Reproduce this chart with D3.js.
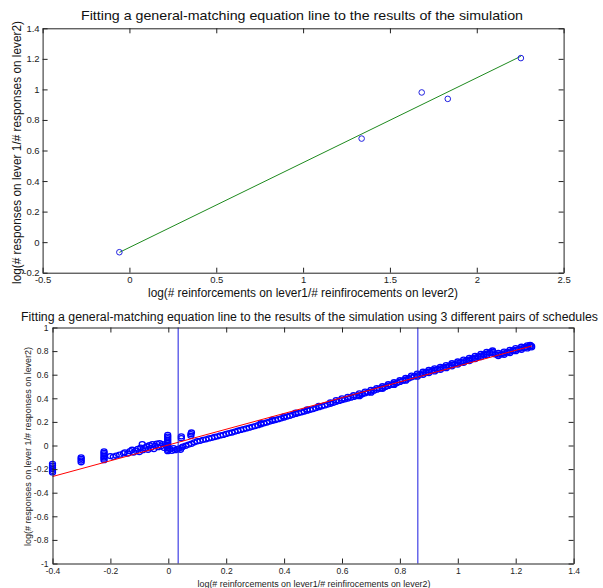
<!DOCTYPE html>
<html>
<head>
<meta charset="utf-8">
<script src="https://cdn.jsdelivr.net/npm/d3@7"></script>
<style>
  body { margin: 0; background: #fff; }
  text { font-family: "Liberation Sans", Arial, sans-serif; }
</style>
</head>
<body>
<script>
// ---- top chart: 5 simulation results + fitted line ----
var topX = [-0.058, 1.337, 1.683, 1.833, 2.254];
var topY = [-0.066, 0.678, 0.980, 0.938, 1.205];
var topFitX = [-0.058, 2.254];
var topFitY = [-0.067, 1.217];
var topXTicks = [-0.5, 0, 0.5, 1, 1.5, 2, 2.5];
var topXLabels = ["-0.5", "0", "0.5", "1", "1.5", "2", "2.5"];
var topYTicks = [-0.2, 0, 0.2, 0.4, 0.6, 0.8, 1, 1.2, 1.4];
var topYLabels = ["-0.2", "0", "0.2", "0.4", "0.6", "0.8", "1", "1.2", "1.4"];

// ---- bottom chart: 3 pairs of schedules ----
// scattered clusters on the left
var clusterX = [-0.400, -0.400, -0.400, -0.400, -0.400, -0.400,
  -0.301, -0.301, -0.301, -0.301,
  -0.222, -0.222, -0.222, -0.222, -0.222, -0.222, -0.222,
  -0.200, -0.190, -0.180, -0.168, -0.155, -0.150, -0.140, -0.132, -0.125, -0.120,
  -0.112, -0.105, -0.100, -0.095, -0.090, -0.088, -0.080, -0.075, -0.070, -0.065,
  -0.060, -0.055, -0.050, -0.045, -0.040, -0.035, -0.030, -0.025, -0.020, -0.015, -0.010,
  -0.002, -0.002, -0.002, -0.002, -0.002, -0.002, -0.002, -0.002, -0.002, -0.002, -0.002,
  0.006, 0.012, 0.018, 0.024, 0.030, 0.036, 0.042, 0.046,
  0.045, 0.045, 0.078, 0.078, 0.080];
var clusterY = [-0.155, -0.170, -0.185, -0.200, -0.215, -0.228,
  -0.100, -0.113, -0.127, -0.142,
  -0.050, -0.062, -0.075, -0.088, -0.100, -0.112, -0.124,
  -0.090, -0.096, -0.085, -0.078, -0.066, -0.058, -0.068, -0.048, -0.036, -0.060,
  -0.044, -0.028, -0.055, -0.018, 0.012, -0.040, -0.024, -0.008, -0.036, 0.002,
  -0.020, 0.012, -0.030, -0.004, 0.016, -0.014, 0.020, -0.006, 0.012, -0.020, 0.004,
  0.090, 0.076, 0.062, 0.048, 0.034, 0.020, 0.006, -0.008, -0.022, -0.036, -0.048,
  -0.030, -0.045, -0.022, -0.040, -0.032, -0.026, -0.036, -0.018,
  0.062, 0.078, 0.082, 0.097, 0.110];

// main band of points
var bandX = [0.05, 0.06, 0.07, 0.08, 0.09, 0.10, 0.11, 0.12, 0.13, 0.14,
  0.15, 0.16, 0.17, 0.18, 0.19, 0.20, 0.21, 0.22, 0.23, 0.24,
  0.25, 0.26, 0.27, 0.28, 0.29, 0.30, 0.31, 0.32, 0.33, 0.34,
  0.35, 0.36, 0.37, 0.38, 0.39, 0.40, 0.41, 0.42, 0.43, 0.44,
  0.45, 0.46, 0.47, 0.48, 0.49, 0.50, 0.51, 0.52, 0.53, 0.54,
  0.55, 0.56, 0.57, 0.58, 0.59, 0.60, 0.61, 0.62, 0.63, 0.64,
  0.65, 0.66, 0.67, 0.68, 0.69, 0.70, 0.71, 0.72, 0.73, 0.74,
  0.75, 0.76, 0.77, 0.78, 0.79, 0.80, 0.81, 0.82, 0.83, 0.84,
  0.85, 0.86, 0.87, 0.88, 0.89, 0.90, 0.91, 0.92, 0.93, 0.94,
  0.95, 0.96, 0.97, 0.98, 0.99, 1.00, 1.01, 1.02, 1.03, 1.04,
  1.05, 1.06, 1.07, 1.08, 1.09, 1.10, 1.11, 1.12, 1.13, 1.14,
  1.15, 1.16, 1.17, 1.18, 1.19, 1.20, 1.21, 1.22, 1.23, 1.24, 1.25];
var bandY = [-0.010, -0.002, 0.008, 0.015, 0.027, 0.036, 0.040, 0.048, 0.052, 0.060,
  0.065, 0.072, 0.078, 0.085, 0.090, 0.098, 0.105, 0.110, 0.118, 0.125,
  0.132, 0.138, 0.145, 0.151, 0.158, 0.165, 0.172, 0.180, 0.188, 0.195,
  0.203, 0.209, 0.216, 0.223, 0.230, 0.237, 0.245, 0.252, 0.260, 0.268,
  0.275, 0.281, 0.288, 0.295, 0.302, 0.309, 0.317, 0.325, 0.332, 0.340,
  0.347, 0.354, 0.362, 0.370, 0.378, 0.385, 0.391, 0.398, 0.405, 0.412,
  0.419, 0.427, 0.434, 0.442, 0.450, 0.457, 0.465, 0.473, 0.481, 0.488,
  0.496, 0.505, 0.513, 0.522, 0.530, 0.539, 0.549, 0.558, 0.568, 0.578,
  0.587, 0.595, 0.603, 0.611, 0.619, 0.626, 0.633, 0.640, 0.646, 0.653,
  0.659, 0.667, 0.675, 0.683, 0.690, 0.698, 0.705, 0.713, 0.720, 0.728,
  0.736, 0.745, 0.753, 0.762, 0.770, 0.779, 0.786, 0.793, 0.772, 0.770,
  0.773, 0.781, 0.789, 0.796, 0.804, 0.811, 0.817, 0.823, 0.829, 0.835, 0.840];

// upper edge of the band (thicker on the right)
var upperX = [0.32, 0.36, 0.40, 0.44, 0.48, 0.52,
  0.56, 0.58, 0.60, 0.62, 0.64, 0.66, 0.68, 0.70, 0.72, 0.74, 0.76, 0.78,
  0.80, 0.82, 0.84, 0.86, 0.88, 0.90, 0.92, 0.94, 0.96, 0.98, 1.00, 1.02, 1.04,
  1.06, 1.08, 1.10, 1.12, 1.14, 1.16, 1.18, 1.20, 1.22, 1.24, 1.25, 1.255];
var upperY = [0.190, 0.219, 0.247, 0.278, 0.305, 0.335,
  0.366, 0.384, 0.399, 0.412, 0.426, 0.441, 0.456, 0.471, 0.487, 0.502, 0.519, 0.536,
  0.553, 0.572, 0.592, 0.609, 0.625, 0.640, 0.654, 0.667, 0.681, 0.697, 0.712, 0.727, 0.742,
  0.759, 0.776, 0.793, 0.805, 0.784, 0.795, 0.810, 0.825, 0.837, 0.849, 0.853, 0.843];

// lower edge of the band
var lowerX = [0.66, 0.70, 0.74, 0.78, 0.82,
  0.86, 0.88, 0.90, 0.92, 0.94, 0.96, 0.98, 1.00, 1.02, 1.04, 1.06, 1.08,
  1.10, 1.12, 1.14, 1.16, 1.18, 1.20, 1.22, 1.24, 1.255];
var lowerY = [0.418, 0.448, 0.480, 0.513, 0.549,
  0.583, 0.599, 0.614, 0.628, 0.641, 0.655, 0.671, 0.686, 0.701, 0.716, 0.733, 0.750,
  0.767, 0.780, 0.758, 0.769, 0.784, 0.799, 0.811, 0.823, 0.832];

var botFitX = [-0.4, 1.255];
var botFitY = [-0.263, 0.843];
var botVLines = [0.034, 0.862];
var botXTicks = [-0.4, -0.2, 0, 0.2, 0.4, 0.6, 0.8, 1, 1.2, 1.4];
var botXLabels = ["-0.4", "-0.2", "0", "0.2", "0.4", "0.6", "0.8", "1", "1.2", "1.4"];
var botYTicks = [-1, -0.8, -0.6, -0.4, -0.2, 0, 0.2, 0.4, 0.6, 0.8, 1];
var botYLabels = ["-1", "-0.8", "-0.6", "-0.4", "-0.2", "0", "0.2", "0.4", "0.6", "0.8", "1"];

var xLabelText = "log(# reinforcements on lever1/# reinfirocements on lever2)";
var yLabelText = "log(# responses on lever 1/# responses on lever2)";

var svg = d3.select("body").append("svg")
  .attr("width", 603)
  .attr("height", 588);

// matlab style box with inward ticks on all four sides
function drawBox(g, x, y, w, h, xt, xl, yt, yl, fs, padX, padY) {
  var bottom = g.append("g")
    .attr("transform", "translate(0," + h + ")")
    .call(d3.axisBottom(x).tickValues(xt).tickFormat(function(d, i) { return xl[i]; })
      .tickSizeInner(-5).tickSizeOuter(0).tickPadding(padX));
  g.append("g")
    .call(d3.axisTop(x).tickValues(xt).tickFormat("").tickSizeInner(-5).tickSizeOuter(0));
  var left = g.append("g")
    .call(d3.axisLeft(y).tickValues(yt).tickFormat(function(d, i) { return yl[i]; })
      .tickSizeInner(-5).tickSizeOuter(0).tickPadding(padY));
  g.append("g")
    .attr("transform", "translate(" + w + ",0)")
    .call(d3.axisRight(y).tickValues(yt).tickFormat("").tickSizeInner(-5).tickSizeOuter(0));
  g.selectAll(".domain, .tick line").attr("stroke", "#222");
  [bottom, left].forEach(function(a) {
    a.attr("font-family", "Liberation Sans, Arial, sans-serif").attr("font-size", fs);
    a.selectAll("text").attr("fill", "#222");
  });
}

// ---------- top chart ----------
var w1 = 521, h1 = 244.4;
var g1 = svg.append("g").attr("transform", "translate(42.6,28.3)");
var x1 = d3.scaleLinear().domain([-0.5, 2.5]).range([0, w1]);
var y1 = d3.scaleLinear().domain([-0.2, 1.4]).range([h1, 0]);

g1.append("path")
  .datum(d3.zip(topFitX, topFitY))
  .attr("fill", "none")
  .attr("stroke", "#1e8a1e")
  .attr("stroke-width", 1)
  .attr("d", d3.line().x(function(d) { return x1(d[0]); }).y(function(d) { return y1(d[1]); }));

g1.selectAll("circle.pt")
  .data(d3.zip(topX, topY))
  .enter()
  .append("circle")
  .attr("class", "pt")
  .attr("cx", function(d) { return x1(d[0]); })
  .attr("cy", function(d) { return y1(d[1]); })
  .attr("r", 2.8)
  .attr("fill", "none")
  .attr("stroke", "#2020e0")
  .attr("stroke-width", 1);

drawBox(g1, x1, y1, w1, h1, topXTicks, topXLabels, topYTicks, topYLabels, 9.5, 4, 3);

svg.append("text")
  .attr("x", 302).attr("y", 20)
  .attr("text-anchor", "middle")
  .attr("font-size", 13)
  .attr("textLength", 442).attr("lengthAdjust", "spacingAndGlyphs")
  .attr("fill", "#111")
  .text("Fitting a general-matching equation line to the results of the simulation");

svg.append("text")
  .attr("x", 303).attr("y", 296.5)
  .attr("text-anchor", "middle")
  .attr("font-size", 12)
  .attr("textLength", 310).attr("lengthAdjust", "spacingAndGlyphs")
  .attr("fill", "#111")
  .text(xLabelText);

svg.append("text")
  .attr("transform", "translate(21,152.5) rotate(-90)")
  .attr("text-anchor", "middle")
  .attr("font-size", 12)
  .attr("textLength", 263).attr("lengthAdjust", "spacingAndGlyphs")
  .attr("fill", "#111")
  .text(yLabelText);

// ---------- bottom chart ----------
var w2 = 521.1, h2 = 236;
var g2 = svg.append("g").attr("transform", "translate(52.5,327.5)");
var x2 = d3.scaleLinear().domain([-0.4, 1.4]).range([0, w2]);
var y2 = d3.scaleLinear().domain([-1, 1]).range([h2, 0]);

var pts = d3.zip(clusterX.concat(bandX, upperX, lowerX), clusterY.concat(bandY, upperY, lowerY));

g2.selectAll("ellipse.pt")
  .data(pts)
  .enter()
  .append("ellipse")
  .attr("class", "pt")
  .attr("cx", function(d) { return x2(d[0]); })
  .attr("cy", function(d) { return y2(d[1]); })
  .attr("rx", 3)
  .attr("ry", 2.5)
  .attr("fill", "none")
  .attr("stroke", "#0000ff")
  .attr("stroke-width", 1.3);

g2.append("path")
  .datum(d3.zip(botFitX, botFitY))
  .attr("fill", "none")
  .attr("stroke", "#ff0000")
  .attr("stroke-width", 1)
  .attr("d", d3.line().x(function(d) { return x2(d[0]); }).y(function(d) { return y2(d[1]); }));

g2.selectAll("line.vl")
  .data(botVLines)
  .enter()
  .append("line")
  .attr("class", "vl")
  .attr("x1", function(d) { return x2(d); })
  .attr("x2", function(d) { return x2(d); })
  .attr("y1", y2(-1))
  .attr("y2", y2(1))
  .attr("stroke", "#1a1adf")
  .attr("stroke-width", 1);

drawBox(g2, x2, y2, w2, h2, botXTicks, botXLabels, botYTicks, botYLabels, 8.5, 4.5, 4);

svg.append("text")
  .attr("x", 309.5).attr("y", 320.5)
  .attr("text-anchor", "middle")
  .attr("font-size", 12)
  .attr("textLength", 577).attr("lengthAdjust", "spacingAndGlyphs")
  .attr("fill", "#111")
  .text("Fitting a general-matching equation line to the results of the simulation using 3 different pairs of schedules");

svg.append("text")
  .attr("x", 314).attr("y", 587)
  .attr("text-anchor", "middle")
  .attr("font-size", 8.5)
  .attr("textLength", 233).attr("lengthAdjust", "spacingAndGlyphs")
  .attr("fill", "#222")
  .text(xLabelText);

svg.append("text")
  .attr("transform", "translate(30.5,446.5) rotate(-90)")
  .attr("text-anchor", "middle")
  .attr("font-size", 8.5)
  .attr("textLength", 199).attr("lengthAdjust", "spacingAndGlyphs")
  .attr("fill", "#222")
  .text(yLabelText);
</script>
</body>
</html>
